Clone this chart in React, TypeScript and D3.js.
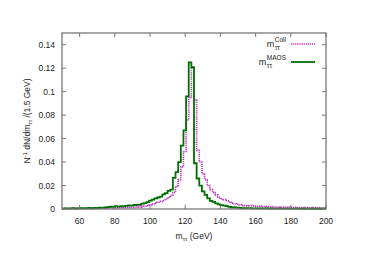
import React, { useRef, useEffect } from "react";
import * as d3 from "d3";

// bin lower edges: 50 + 1.5 * i, 100 bins up to 200 GeV
const binStart = 50;
const binWidth = 1.5;

const collValues = [
  0.0003, 0.0005, 0.0004, 0.0006, 0.0004, 0.0005, 0.0007, 0.0004, 0.0006, 0.0005,
  0.0007, 0.0006, 0.0008, 0.0007, 0.0006, 0.0009, 0.0008, 0.001, 0.0009, 0.0011,
  0.001, 0.0012, 0.0011, 0.0013, 0.0012, 0.0014, 0.0013, 0.0015, 0.0018, 0.0016,
  0.0022, 0.0025, 0.003, 0.0035, 0.0042, 0.005, 0.0058, 0.0065, 0.0072, 0.0085,
  0.0098, 0.0115, 0.014, 0.019, 0.025, 0.036, 0.049, 0.076, 0.095, 0.12,
  0.093, 0.05, 0.04, 0.03, 0.025, 0.02, 0.0165, 0.014, 0.012, 0.01,
  0.0085, 0.008, 0.007, 0.006, 0.005, 0.0045, 0.004, 0.0035, 0.003, 0.0028,
  0.0025, 0.003, 0.0026, 0.0024, 0.0022, 0.0025, 0.002, 0.0022, 0.0018, 0.002,
  0.0017, 0.0016, 0.0018, 0.0015, 0.0016, 0.0014, 0.0015, 0.0013, 0.0014, 0.0012,
  0.0013, 0.0011, 0.0012, 0.001, 0.0011, 0.0012, 0.001, 0.0011, 0.0009, 0.001,
];

const maosValues = [
  0.0004, 0.0006, 0.0003, 0.0005, 0.0007, 0.0004, 0.0006, 0.0008, 0.0005, 0.0007,
  0.0009, 0.0006, 0.001, 0.0008, 0.0011, 0.0009, 0.0013, 0.0016, 0.002, 0.0018,
  0.0025, 0.0021, 0.0024, 0.0022, 0.0027, 0.003, 0.0029, 0.0034, 0.0036, 0.0035,
  0.0045, 0.005, 0.0058, 0.0072, 0.008, 0.009, 0.0098, 0.0105, 0.0125, 0.0135,
  0.0155, 0.0165, 0.0265, 0.0315, 0.04, 0.054, 0.067, 0.096, 0.125, 0.121,
  0.039, 0.026, 0.02, 0.015, 0.012, 0.009, 0.007, 0.006, 0.0048, 0.004,
  0.0033, 0.0028, 0.0024, 0.0018, 0.0015, 0.0013, 0.0011, 0.0009, 0.0008, 0.0008,
  0.0007, 0.0007, 0.0006, 0.0006, 0.0006, 0.0005, 0.0005, 0.0005, 0.0004, 0.0005,
  0.0004, 0.0004, 0.0004, 0.0003, 0.0004, 0.0003, 0.0003, 0.0004, 0.0003, 0.0003,
  0.0003, 0.0002, 0.0003, 0.0003, 0.0002, 0.0003, 0.0002, 0.0002, 0.0003, 0.0002,
];

const xTicks = [60, 80, 100, 120, 140, 160, 180, 200];
const yTicks = [0, 0.02, 0.04, 0.06, 0.08, 0.1, 0.12, 0.14];

const series = [
  { name: "Coll", values: collValues, color: "#c030c0", dash: "1.2,0.9", width: 1.6 },
  { name: "MAOS", values: maosValues, color: "#007000", dash: null, width: 1.8 },
];

const App = () => {
  const svgRef = useRef<SVGSVGElement>(null);

  useEffect(() => {
    const svg = d3.select(svgRef.current);
    svg.selectAll("*").remove();

    const margin = { top: 33, right: 48, bottom: 56, left: 62 };
    const width = 374;
    const height = 265;
    const font = "'Liberation Sans', Arial, sans-serif";
    const frame = "#777";
    const textColor = "#222";

    const x = d3.scaleLinear().domain([50, 200]).range([margin.left, width - margin.right]);
    const y = d3.scaleLinear().domain([0, 0.15]).range([height - margin.bottom, margin.top]);

    const line = d3
      .line<[number, number]>()
      .x((d) => x(d[0]))
      .y((d) => y(d[1]))
      .curve(d3.curveStepAfter);

    series.forEach((s) => {
      const pts: [number, number][] = s.values.map((v, i) => [binStart + binWidth * i, v]);
      pts.push([binStart + binWidth * s.values.length, s.values[s.values.length - 1]]);
      svg
        .append("path")
        .attr("d", line(pts))
        .attr("fill", "none")
        .attr("stroke", s.color)
        .attr("stroke-width", s.width)
        .attr("stroke-dasharray", s.dash);
    });

    // frame
    const x0 = x.range()[0];
    const x1 = x.range()[1];
    const y0 = y.range()[0];
    const y1 = y.range()[1];
    svg
      .append("rect")
      .attr("x", x0)
      .attr("y", y1)
      .attr("width", x1 - x0)
      .attr("height", y0 - y1)
      .attr("fill", "none")
      .attr("stroke", frame)
      .attr("stroke-width", 1.3);

    const tick = 4;
    xTicks.forEach((t) => {
      svg.append("line").attr("x1", x(t)).attr("x2", x(t)).attr("y1", y0).attr("y2", y0 - tick).attr("stroke", frame);
      svg.append("line").attr("x1", x(t)).attr("x2", x(t)).attr("y1", y1).attr("y2", y1 + tick).attr("stroke", frame);
      svg
        .append("text")
        .attr("x", x(t))
        .attr("y", y0 + 15)
        .attr("text-anchor", "middle")
        .attr("font-family", font)
        .attr("font-size", 8.5)
        .attr("fill", textColor)
        .text(t);
    });

    yTicks.forEach((t) => {
      svg.append("line").attr("x1", x0).attr("x2", x0 + tick).attr("y1", y(t)).attr("y2", y(t)).attr("stroke", frame);
      svg.append("line").attr("x1", x1).attr("x2", x1 - tick).attr("y1", y(t)).attr("y2", y(t)).attr("stroke", frame);
      svg
        .append("text")
        .attr("x", x0 - 7)
        .attr("y", y(t) + 3)
        .attr("text-anchor", "end")
        .attr("font-family", font)
        .attr("font-size", 8.5)
        .attr("fill", textColor)
        .text(t === 0 ? "0" : String(t));
    });

    // x label
    const xl = svg
      .append("text")
      .attr("x", (x0 + x1) / 2)
      .attr("y", y0 + 30)
      .attr("text-anchor", "middle")
      .attr("font-family", font)
      .attr("font-size", 8.5)
      .attr("fill", textColor);
    xl.append("tspan").text("m");
    xl.append("tspan").attr("font-size", 6).attr("dy", 2).text("ττ");
    xl.append("tspan").attr("dy", -2).text("  (GeV)");

    // y label
    const yl = svg
      .append("text")
      .attr("transform", `translate(30,${(y0 + y1) / 2}) rotate(-90)`)
      .attr("text-anchor", "middle")
      .attr("font-family", font)
      .attr("font-size", 8.5)
      .attr("fill", textColor);
    yl.append("tspan").text("N");
    yl.append("tspan").attr("font-size", 6).attr("dy", -3).text("-1");
    yl.append("tspan").attr("dy", 3).text(" dN/dm");
    yl.append("tspan").attr("font-size", 6).attr("dy", 2).text("ττ");
    yl.append("tspan").attr("dy", -2).text(" /(1.5 GeV)");

    // legend: m with stacked superscript (name) and subscript (ττ)
    series.forEach((s, i) => {
      const ly = 44 + i * 18;
      const sup = svg
        .append("text")
        .attr("x", 286)
        .attr("y", ly - 2)
        .attr("text-anchor", "end")
        .attr("font-family", font)
        .attr("font-size", 6.5)
        .attr("fill", textColor)
        .text(s.name);
      const w = (sup.node() as SVGTextElement).getComputedTextLength();
      const start = 286 - w;
      svg
        .append("text")
        .attr("x", start)
        .attr("y", ly + 6)
        .attr("font-family", font)
        .attr("font-size", 6.5)
        .attr("fill", textColor)
        .text("ττ");
      svg
        .append("text")
        .attr("x", start - 0.5)
        .attr("y", ly + 3)
        .attr("text-anchor", "end")
        .attr("font-family", font)
        .attr("font-size", 9)
        .attr("fill", textColor)
        .text("m");
      svg
        .append("line")
        .attr("x1", 291)
        .attr("x2", 315)
        .attr("y1", ly)
        .attr("y2", ly)
        .attr("stroke", s.color)
        .attr("stroke-width", s.width)
        .attr("stroke-dasharray", s.dash);
    });
  }, []);

  return (
    <svg
      ref={svgRef}
      width={374}
      height={265}
      style={{ position: "absolute", left: 0, top: 0, background: "#fff" }}
    ></svg>
  );
};

export default App;
